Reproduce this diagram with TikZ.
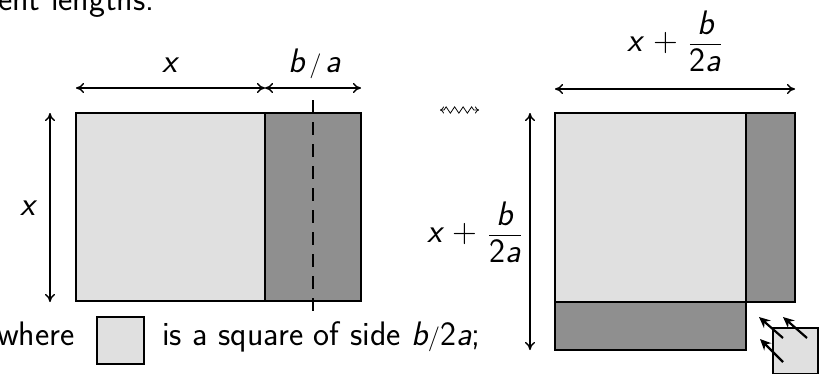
\documentclass[tikz,border=0pt]{standalone}
\usepackage{amsmath}
\usetikzlibrary{calc,positioning,arrows.meta,decorations.pathmorphing}
\newcommand{\sv}[1]{\text{\sffamily\slshape #1}}
\newcommand{\su}[1]{\text{\sffamily #1}}
\definecolor{lightfill}{gray}{0.88}
\definecolor{darkfill}{gray}{0.56}
\tikzset{
  box/.style={draw=black, line width=2pt},
  dimarrow/.style={line width=1.4pt, {To[length=8pt,width=10pt]}-{To[length=8pt,width=10pt]}},
  lbl/.style={font=\fontsize{34}{40}\selectfont\sffamily, inner sep=0pt},
  pusharrow/.style={line width=2.2pt, -{Stealth[length=11pt,width=10pt]}},
}
\begin{document}
\begin{tikzpicture}[x=1pt,y=-1pt]
  \useasboundingbox (0,0) rectangle (820,373);

  %text cut off above
  \node[lbl, anchor=base west] (prev) at (-2,10) {ent lengths.};

  %rectangle x by x+b/a
  \coordinate (L1) at (76,113);
  \coordinate (L2) at (265,113);
  \coordinate (L3) at (361,113);
  \coordinate (L4) at (76,301);
  \coordinate (L5) at (265,301);
  \coordinate (L6) at (361,301);
  \fill[lightfill] (L1) rectangle (L5);
  \fill[darkfill] (L2) rectangle (L6);
  \draw[box] (L1) rectangle (L6);
  \draw[box] (L2) -- (L5);
  \draw[line width=1.5pt, dash pattern=on 13pt off 9pt] (313,100) -- (313,314);

  \coordinate (ta) at (76,88);
  \coordinate (tb) at (265,88);
  \coordinate (tc) at (361,88);
  \draw[dimarrow] (ta) -- (tb);
  \draw[dimarrow] (tb) -- (tc);
  \node[lbl, anchor=base] (lx) at (170,72) {$\sv{x}$};
  \node[lbl, anchor=base] (lba) at (315,72) {$\sv{b}\,/\,\sv{a}$};

  \coordinate (va) at (50,113);
  \coordinate (vb) at (50,302);
  \draw[dimarrow] (va) -- (vb);
  \node[lbl, anchor=base] (ly) at (28,215) {$\sv{x}$};

  %squiggle
  \coordinate (sa) at (440,110);
  \coordinate (sb) at (479,110);
  \draw[line width=0.8pt, {To[length=4pt,width=7pt]}-{To[length=4pt,width=7pt]},
    decorate, decoration={zigzag, amplitude=3.2pt, segment length=8.5pt, pre length=4pt, post length=4pt}] (sa) -- (sb);

  %completed square
  \coordinate (R1) at (555,113);
  \coordinate (R2) at (746,113);
  \coordinate (R3) at (795,113);
  \coordinate (R4) at (555,302);
  \coordinate (R5) at (746,302);
  \coordinate (R6) at (795,302);
  \coordinate (R7) at (555,350);
  \coordinate (R8) at (746,350);
  \fill[lightfill] (R1) rectangle (R5);
  \fill[darkfill] (R2) rectangle (R6);
  \fill[darkfill] (R4) rectangle (R8);
  \draw[box] (R1) rectangle (R5);
  \draw[box] (R2) rectangle (R6);
  \draw[box] (R4) rectangle (R8);

  \coordinate (ra) at (555,89);
  \coordinate (rb) at (795,89);
  \draw[dimarrow] (ra) -- (rb);
  \node[lbl, anchor=base] (rx) at (675,51) {$\sv{x}\su{\ +\ }\dfrac{\sv{b}}{\su{2}\sv{a}}$};

  \coordinate (rva) at (530,113);
  \coordinate (rvb) at (530,350);
  \draw[dimarrow] (rva) -- (rvb);
  \node[lbl, anchor=base east] (ry) at (522,242) {$\sv{x}\su{\ +\ }\dfrac{\sv{b}}{\su{2}\sv{a}}$};

  %small square pushed in
  \fill[lightfill] (773,328) rectangle (818,374);
  \draw[box] (773,328) rectangle (818,374);
  \coordinate (p1) at (783,338);
  \coordinate (q1) at (759,317);
  \coordinate (p2) at (807,338);
  \coordinate (q2) at (783,317);
  \coordinate (p3) at (783,362);
  \coordinate (q3) at (760,339);
  \draw[pusharrow] (p1) -- (q1);
  \draw[pusharrow] (p2) -- (q2);
  \draw[pusharrow] (p3) -- (q3);

  %caption
  \node[lbl, anchor=base west] (where) at (-3,345) {where};
  \fill[lightfill] (97,317) rectangle (144,364);
  \draw[box] (97,317) rectangle (144,364);
  \node[lbl, anchor=base west] (side) at (162,345) {is a square of side $\sv{b}/\su{2}\sv{a}$;};
\end{tikzpicture}
\end{document}
